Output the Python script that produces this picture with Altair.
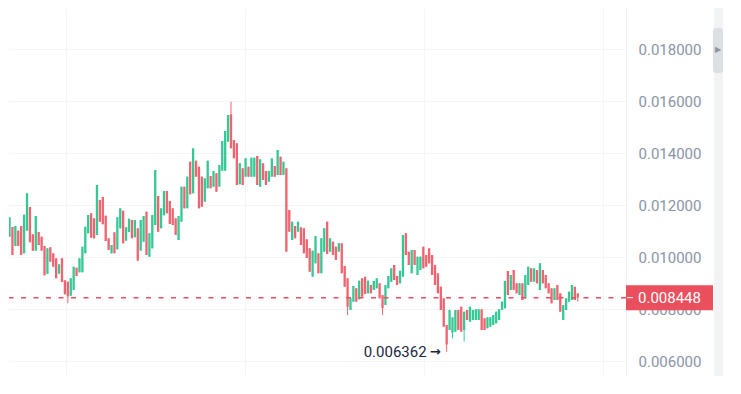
import altair as alt
import pandas as pd

# prices in millionths (x 1e-6)
opens_e6 = [9858, 10792, 11165, 10434, 11023, 11204, 10154, 11023, 11934, 10884,
            10254, 10973, 10792, 10434, 9369, 10384, 10154, 9961, 9369, 9961,
            9115, 9061, 8523, 8742, 9600, 9423, 9423, 10154, 10923, 11692,
            11500, 10858, 12204, 12319, 11600, 10731, 10154, 10961, 10307, 11115,
            11792, 10638, 10973, 11435, 10769, 11115, 10254, 10600, 11754, 10023,
            10346, 11242, 12358, 11115, 11615, 12550, 12165, 11884, 11500, 10665,
            11369, 12715, 11884, 13677, 12461, 13715, 13484, 13100, 12138, 12654,
            13127, 12715, 13231, 12715, 13331, 13331, 14446, 15500, 14511, 14385,
            12808, 13423, 13100, 13484, 13100, 13100, 13896, 12715, 13615, 13319,
            12908, 13100, 13511, 13165, 13869, 13165, 13423, 11819, 10665, 11204,
            10984, 11154, 11115, 10692, 10346, 9254, 9769, 10154, 9385, 10215,
            11369, 10215, 10600, 10407, 10215, 10538, 9665, 9192, 7973, 8292,
            8808, 8385, 9192, 9254, 8615, 8935, 8742, 8808, 9000, 8550,
            8165, 8808, 9061, 9704, 9281, 9000, 9254, 10923, 10215, 9385,
            10281, 9319, 9511, 10407, 10088, 10346, 10088, 9704, 9385, 8869,
            8423, 7396, 7204, 7100, 7138, 7973, 8100, 7200, 7973, 7523,
            7588, 7588, 7588, 8000, 7654, 7269, 7331, 7396, 7461, 7588,
            7973, 8038, 9473, 8742, 9511, 9000, 8550, 9000, 8423, 8935,
            9577, 9061, 9511, 8742, 9511, 9319, 9000, 8808, 8358, 8935,
            8615, 7588, 7973, 8292, 8358, 8869, 8615]
highs_e6 = [11204, 11538, 11165, 11204, 11023, 11204, 11638, 12461, 11934, 10884,
            11588, 10973, 10792, 10434, 10346, 10384, 10154, 9961, 9731, 9961,
            9115, 9061, 9192, 9638, 9600, 9961, 10407, 11177, 11627, 11692,
            11500, 12781, 12204, 12319, 11600, 10731, 10473, 10961, 11538, 11884,
            11792, 11154, 11485, 11435, 11435, 11115, 11435, 11588, 11754, 10923,
            11627, 13358, 12358, 11884, 12550, 12550, 12165, 11884, 11500, 11588,
            12715, 12715, 13100, 13677, 14192, 13715, 13484, 13100, 13038, 13715,
            13127, 13319, 13231, 13550, 14473, 14858, 15473, 15985, 14511, 14385,
            13615, 13423, 13808, 13484, 13831, 13831, 13896, 13769, 13615, 13319,
            13319, 13808, 13511, 14127, 13869, 13677, 13423, 11819, 11369, 11204,
            11369, 11154, 11115, 10692, 10346, 10254, 10819, 10154, 10731, 11115,
            11369, 10731, 10600, 10407, 10538, 10538, 9665, 9192, 8423, 8896,
            8808, 9100, 9192, 9254, 9100, 8935, 9088, 9192, 9000, 8550,
            8935, 9281, 9577, 9704, 9281, 9484, 10858, 10923, 10215, 10281,
            10281, 10023, 10023, 10407, 10088, 10346, 10088, 9704, 9385, 8869,
            8423, 7396, 7973, 7692, 7973, 7973, 8100, 7908, 7973, 8100,
            7973, 8000, 8000, 8000, 7654, 7692, 7692, 7781, 7908, 8000,
            8292, 9088, 9473, 9319, 9511, 9000, 9000, 9000, 9319, 9638,
            9577, 9577, 9511, 9769, 9511, 9319, 9000, 8808, 8808, 8935,
            8615, 8165, 8423, 8677, 8935, 8869, 8615]
lows_e6 = [9858, 10792, 10088, 10434, 10434, 10088, 10154, 11023, 10577, 10254,
           10254, 10473, 10254, 9308, 9369, 9831, 9638, 9192, 9369, 9050,
           8577, 8231, 8523, 8742, 9281, 9423, 9423, 10154, 10923, 10754,
           10731, 10858, 11369, 11269, 10627, 10281, 10154, 10154, 10307, 11115,
           10538, 10638, 10973, 10731, 10769, 9869, 10254, 10600, 10088, 10023,
           10346, 11242, 10984, 11115, 11615, 11692, 11281, 11242, 10858, 10665,
           11369, 11884, 11884, 12423, 12461, 13100, 11884, 11946, 12138, 12654,
           12654, 12715, 12523, 12715, 13331, 13331, 14446, 14192, 13808, 12781,
           12808, 12781, 13100, 13100, 13100, 13100, 12781, 12715, 12973, 12781,
           12908, 13100, 13100, 13165, 13165, 13165, 10215, 10984, 10665, 10731,
           10984, 10473, 10154, 9973, 9446, 9254, 9769, 9385, 9385, 10215,
           10127, 10215, 10088, 9896, 10215, 9385, 8869, 7781, 7973, 8292,
           8292, 8385, 8485, 8588, 8615, 8615, 8742, 8808, 8423, 7781,
           8165, 8808, 9061, 9127, 8935, 9000, 9254, 10088, 9704, 9385,
           9704, 9319, 9511, 9577, 9638, 9769, 9319, 8935, 8615, 7973,
           7331, 6362, 7204, 6885, 7138, 7204, 7138, 6754, 7588, 7523,
           7588, 7588, 7588, 7204, 7204, 7269, 7331, 7396, 7461, 7588,
           7973, 8038, 8550, 8742, 8742, 8615, 8550, 8358, 8423, 8935,
           9061, 9061, 9000, 8742, 9000, 8808, 8615, 8231, 8358, 8358,
           7908, 7588, 7973, 8292, 8358, 8358, 8292]
closes_e6 = [11204, 11538, 10088, 11204, 10434, 10088, 11638, 12461, 10577, 10254,
             11588, 10473, 10254, 9308, 10346, 9831, 9638, 9192, 9731, 9050,
             8577, 8500, 9192, 9638, 9281, 9961, 10407, 11177, 11627, 10754,
             10731, 12781, 11369, 11269, 10627, 10281, 10473, 10154, 11538, 11884,
             10538, 11154, 11485, 10731, 11435, 9869, 11435, 11588, 10088, 10923,
             11627, 13358, 10984, 11884, 12550, 11692, 11281, 11242, 10858, 11588,
             12715, 11884, 13100, 12423, 14192, 13100, 11884, 11946, 13038, 13715,
             12654, 13319, 12523, 13550, 14473, 14858, 15473, 14192, 13808, 12781,
             13615, 12781, 13808, 13100, 13831, 13831, 12781, 13769, 12973, 12781,
             13319, 13808, 13100, 14127, 13165, 13677, 10215, 10984, 11369, 10731,
             11369, 10473, 10154, 9973, 9446, 10254, 10819, 9385, 10731, 11115,
             10127, 10731, 10088, 9896, 10538, 9385, 8869, 8100, 8423, 8896,
             8292, 9100, 8485, 8588, 9100, 8615, 9088, 9192, 8423, 8050,
             8935, 9281, 9577, 9127, 8935, 9484, 10858, 10088, 9704, 10281,
             9704, 10023, 10023, 9577, 9638, 9769, 9319, 8935, 8615, 7973,
             7331, 6650, 7973, 7692, 7973, 7204, 7138, 7908, 7588, 8100,
             7973, 8000, 8000, 7204, 7204, 7692, 7692, 7781, 7908, 8000,
             8292, 9088, 8550, 9319, 8742, 8615, 9000, 8358, 9319, 9638,
             9061, 9577, 9000, 9769, 9000, 8808, 8615, 8231, 8808, 8358,
             7908, 8165, 8423, 8677, 8935, 8358, 8448]

y_ticks = [0.006, 0.008, 0.010, 0.012, 0.014, 0.016, 0.018]
grid_x = [20.4, 81.9, 143.1, 204.6]

GREEN = "#34c894"
RED = "#f0636f"
LINE_RED = "#e94f5c"
FONT = "Roboto"

df = pd.DataFrame({
    "i": list(range(len(opens_e6))),
    "open": [v / 1e6 for v in opens_e6],
    "high": [v / 1e6 for v in highs_e6],
    "low": [v / 1e6 for v in lows_e6],
    "close": [v / 1e6 for v in closes_e6],
})

last_price = df["close"].iloc[-1]
price_df = pd.DataFrame({"p": [last_price], "label": [f"{last_price:.6f}"]})
low_row = df.loc[df["low"].idxmin()]
low_df = pd.DataFrame({"i": [low_row["i"]], "low": [low_row["low"]],
                       "label": [f"{low_row['low']:.6f}"], "arrow": ["→"]})

yscale = alt.Scale(domain=[0.005435, 0.019588], nice=False, zero=False)
xscale = alt.Scale(domain=[2.532, 210.83], nice=False, zero=False)

color = alt.condition("datum.close >= datum.open", alt.value(GREEN), alt.value(RED))

base = alt.Chart(df).encode(
    x=alt.X("i:Q", scale=xscale, title=None,
            axis=alt.Axis(values=grid_x, labels=False, ticks=False, domain=False,
                          grid=True, gridColor="#f4f5f7", gridWidth=1)),
    color=color,
)

wick = base.mark_rule(strokeWidth=1, clip=True).encode(
    y=alt.Y("low:Q", scale=yscale, title=None,
            axis=alt.Axis(orient="right", values=y_ticks, format=".6f",
                          labelPadding=12, ticks=False, domain=True,
                          domainColor="#f0f1f3", gridColor="#f4f5f7",
                          labelColor="#8a94a6", labelFont=FONT, labelFontSize=15)),
    y2="high:Q",
)
body = base.mark_bar(size=2.3, clip=True).encode(
    y=alt.Y("open:Q", scale=yscale, title=None),
    y2="close:Q",
)

price_line = alt.Chart(price_df).mark_rule(
    color=LINE_RED, strokeWidth=1.5, strokeDash=[5, 7.5]
).encode(y=alt.Y("p:Q", scale=yscale, title=None))

price_box = alt.Chart(price_df).mark_rule(
    color=LINE_RED, strokeWidth=25, strokeCap="butt"
).encode(y=alt.Y("p:Q", scale=yscale, title=None), x=alt.value(617), x2=alt.value(704))

price_tick = alt.Chart(price_df).mark_rule(color="white", strokeWidth=1).encode(
    y=alt.Y("p:Q", scale=yscale, title=None), x=alt.value(618), x2=alt.value(624))

price_text = alt.Chart(price_df).mark_text(
    align="left", baseline="middle", color="white", font=FONT, fontSize=15
).encode(y=alt.Y("p:Q", scale=yscale, title=None), x=alt.value(629), text="label:N")

low_text = alt.Chart(low_df).mark_text(
    align="right", baseline="middle", color="#1c2742", font=FONT, fontSize=15, dx=-20
).encode(x=alt.X("i:Q", scale=xscale), y=alt.Y("low:Q", scale=yscale, title=None),
         text="label:N")
low_arrow = alt.Chart(low_df).mark_text(
    align="right", baseline="middle", color="#1c2742", font="DejaVu Sans",
    fontSize=13, fontWeight="bold", dx=-6
).encode(x=alt.X("i:Q", scale=xscale), y=alt.Y("low:Q", scale=yscale, title=None),
         text="arrow:N")

strip = alt.Chart(price_df).mark_rect(color="#f2f3f5").encode(
    x=alt.value(705), x2=alt.value(714), y=alt.value(0), y2=alt.value(368))
handle = alt.Chart(price_df).mark_rect(color="#dcdfe3", cornerRadius=3).encode(
    x=alt.value(704), x2=alt.value(714), y=alt.value(20), y2=alt.value(65))
arrow = alt.Chart(price_df).mark_text(text="▶", color="#8e949c", fontSize=8).encode(
    x=alt.value(709), y=alt.value(42))

chart = alt.layer(
    wick, body, price_line, price_box, price_tick, price_text, low_text, low_arrow,
    strip, handle, arrow
).properties(width=617, height=368, padding=0, background="white").configure_view(
    stroke=None
)

chart.save("out.html", embed_options={"renderer": "svg", "actions": False})
